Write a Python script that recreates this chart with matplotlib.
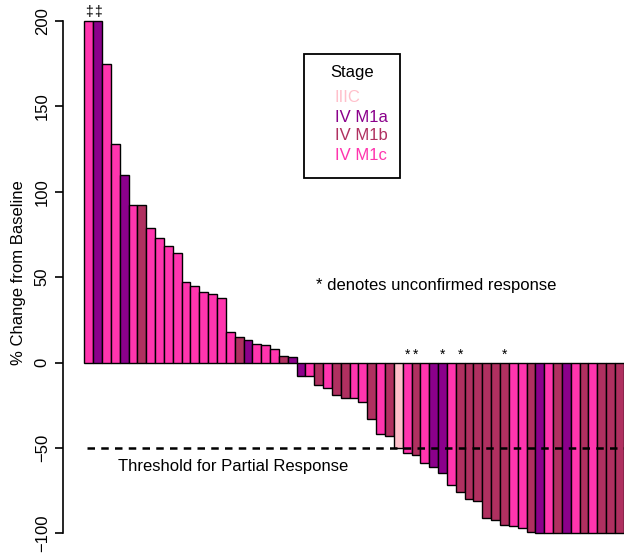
import matplotlib
matplotlib.use("Agg")
import matplotlib.pyplot as plt
from matplotlib.patches import Rectangle
from matplotlib.transforms import IdentityTransform

plt.rcParams['font.family'] = ['Liberation Sans', 'DejaVu Sans']

# Données : variation (%) par patient, triées
change = [200, 200, 175, 128, 110, 92, 92, 79, 73, 68,
          64, 47, 45, 41, 40, 38, 18, 15, 13, 11,
          10, 8, 4, 3, -8, -8, -13, -15, -19, -21,
          -21, -23, -33, -42, -43, -50, -53, -54, -59, -61,
          -65, -72, -76, -80, -81, -91, -92, -95, -96, -97,
          -99, -100, -100, -100, -100, -100, -100, -100, -100, -100,
          -100]
stage = ['c', 'a', 'c', 'c', 'a', 'c', 'b', 'c', 'c', 'c',
         'c', 'c', 'c', 'c', 'c', 'c', 'c', 'b', 'a', 'c',
         'c', 'c', 'b', 'a', 'a', 'c', 'b', 'c', 'b', 'b',
         'c', 'c', 'b', 'c', 'b', '3', 'c', 'b', 'c', 'a',
         'a', 'c', 'b', 'b', 'b', 'b', 'b', 'b', 'c', 'c',
         'b', 'a', 'c', 'b', 'a', 'c', 'b', 'c', 'b', 'b',
         'b']
unconfirmed = [36, 37, 40, 42, 47]   # index des barres avec *
capped = [0, 1]                       # barres tronquées à 200

stage_labels = ['IIIC', 'IV M1a', 'IV M1b', 'IV M1c']
stage_keys = ['3', 'a', 'b', 'c']
stage_colors = {'3': '#FFC0CB', 'a': '#8B008B', 'b': '#B03060', 'c': '#FF35AE'}

W, H = 624, 553
fig = plt.figure(figsize=(W / 100, H / 100), dpi=100)
ax = fig.add_axes([63 / W, (H - 541.8) / H, (W - 63) / W, 537.9 / H])

x = list(range(len(change)))
ax.bar(x, change, width=1.0, align='edge',
       color=[stage_colors[s] for s in stage],
       edgecolor='black', linewidth=1.0, zorder=2)

# seuil de réponse partielle
ax.plot([0.3, len(change)], [-50, -50], color='black', lw=1.8,
        dashes=(3, 2.5), zorder=3)
ax.text(3.8, -61, 'Threshold for Partial Response', fontsize=12,
        ha='left', va='center')
ax.text(26.2, 45, '* denotes unconfirmed response', fontsize=12,
        ha='left', va='center')

for i in unconfirmed:
    ax.text(i + 0.5, 0.5, '*', fontsize=10, ha='center', va='bottom')
for i in capped:
    ax.text(i + 0.5, 205, '\u2021', fontsize=10, ha='center', va='center',
            clip_on=False)

ax.set_xlim(-2.41, 61.02)
ax.set_ylim(-105, 210)
ax.set_yticks([-100, -50, 0, 50, 100, 150, 200])
ax.tick_params(axis='y', labelsize=12, length=6, width=1.2,
               labelrotation=90)
for lab in ax.get_yticklabels():
    lab.set_va('center')
ax.set_xticks([])
for s in ['top', 'right', 'bottom']:
    ax.spines[s].set_visible(False)
ax.spines['left'].set_bounds(-100, 200)
ax.spines['left'].set_linewidth(1.2)
ax.set_ylabel('% Change from Baseline', fontsize=12, labelpad=6)

# légende (boîte manuelle)
tr = IdentityTransform()
fig.patches.append(Rectangle((304, H - 178), 96, 124, transform=tr,
                             facecolor='white', edgecolor='black', lw=1.3,
                             figure=fig))
fig.text(352 / W, (H - 73) / H, 'Stage', fontsize=12, ha='center',
         va='center')
for k, (lab, key) in enumerate(zip(stage_labels, stage_keys)):
    fig.text(335 / W, (H - (98 + 19 * k)) / H, lab, fontsize=12,
             color=stage_colors[key], ha='left', va='center')

fig.savefig('out.png', dpi=100)
